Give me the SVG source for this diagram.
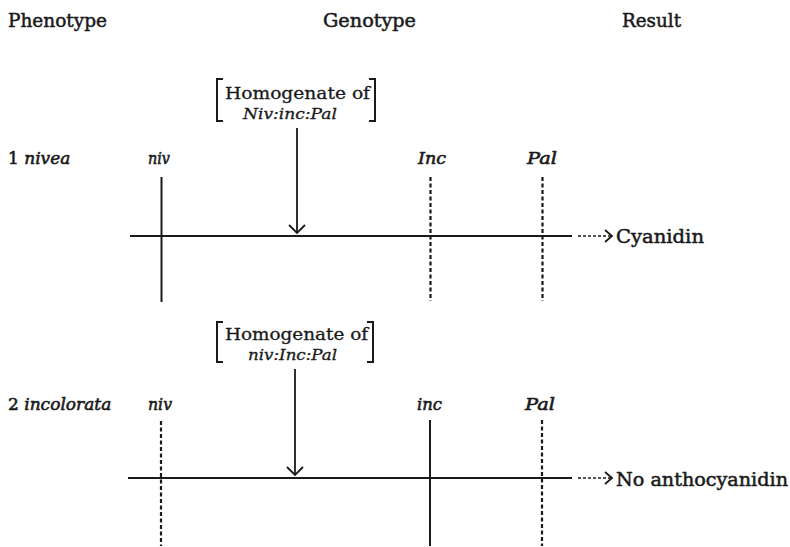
<svg xmlns="http://www.w3.org/2000/svg" width="790" height="547" viewBox="0 0 790 547">
<style>
  text { font-family: "DejaVu Serif", "Liberation Serif", serif; fill: #1a1a1a; }
  .hd { font-size: 18px; stroke: #1a1a1a; stroke-width: 0.5; }
  .lb { font-size: 17px; font-style: italic; stroke: #1a1a1a; stroke-width: 0.6; }
  .num { font-style: normal; }
  .hm { font-size: 16px; stroke: #1a1a1a; stroke-width: 0.3; }
  .gt { font-size: 14.5px; font-style: italic; stroke: #1a1a1a; stroke-width: 0.3; }
  .res { font-size: 18px; stroke: #1a1a1a; stroke-width: 0.5; }
  .solid { stroke: #1a1a1a; stroke-width: 2; fill: none; }
  .dash { stroke: #1a1a1a; stroke-width: 2.2; fill: none; stroke-dasharray: 4 2.5; }
  .axis { stroke: #1a1a1a; stroke-width: 1.8; fill: none; }
  .lead { stroke: #1a1a1a; stroke-width: 1.6; fill: none; stroke-dasharray: 3 2; }
  .head { stroke: #1a1a1a; stroke-width: 1.8; fill: none; }
  .bracket { stroke: #1a1a1a; stroke-width: 2; fill: none; }
</style>

<g id="headers">
  <text class="hd" x="8" y="27" textLength="99" lengthAdjust="spacingAndGlyphs">Phenotype</text>
  <text class="hd" x="323" y="27" textLength="93" lengthAdjust="spacingAndGlyphs">Genotype</text>
  <text class="hd" x="622" y="27" textLength="59" lengthAdjust="spacingAndGlyphs">Result</text>
</g>

<g id="row1-phenotype">
  <text class="lb" x="8" y="164"><tspan class="num">1 </tspan><tspan>nivea</tspan></text>
</g>
<g id="row1-homogenate">
  <path class="bracket" d="M223 79 H217 V121 H223"/>
  <path class="bracket" d="M369 79 H375 V121 H369"/>
  <text class="hm" x="225" y="99" textLength="145" lengthAdjust="spacingAndGlyphs">Homogenate of</text>
  <text class="gt" x="243" y="119" textLength="94" lengthAdjust="spacingAndGlyphs">Niv:inc:Pal</text>
</g>
<g id="row1-niv">
  <text class="lb" x="148" y="164" textLength="22" lengthAdjust="spacingAndGlyphs">niv</text>
  <line class="solid" x1="161.5" y1="177" x2="161.5" y2="302"/>
</g>
<g id="row1-Inc">
  <text class="lb" x="418" y="164" textLength="28" lengthAdjust="spacingAndGlyphs">Inc</text>
  <line class="dash" x1="430.5" y1="177" x2="430.5" y2="301"/>
</g>
<g id="row1-Pal">
  <text class="lb" x="527" y="164" textLength="30" lengthAdjust="spacingAndGlyphs">Pal</text>
  <line class="dash" x1="542.5" y1="177" x2="542.5" y2="301"/>
</g>
<g id="row1-result">
  <text class="res" x="616" y="243" textLength="88" lengthAdjust="spacingAndGlyphs">Cyanidin</text>
</g>

<g id="row2-phenotype">
  <text class="lb" x="8" y="410"><tspan class="num">2 </tspan><tspan>incolorata</tspan></text>
</g>
<g id="row2-homogenate">
  <path class="bracket" d="M223 322 H217 V362 H223"/>
  <path class="bracket" d="M367 322 H373 V362 H367"/>
  <text class="hm" x="225" y="340" textLength="143" lengthAdjust="spacingAndGlyphs">Homogenate of</text>
  <text class="gt" x="248" y="360" textLength="89" lengthAdjust="spacingAndGlyphs">niv:Inc:Pal</text>
</g>
<g id="row2-niv">
  <text class="lb" x="148" y="410" textLength="24" lengthAdjust="spacingAndGlyphs">niv</text>
  <line class="dash" x1="161" y1="421" x2="161" y2="546"/>
</g>
<g id="row2-inc">
  <text class="lb" x="417" y="410" textLength="25" lengthAdjust="spacingAndGlyphs">inc</text>
  <line class="solid" x1="430" y1="420" x2="430" y2="546"/>
</g>
<g id="row2-Pal">
  <text class="lb" x="525" y="410" textLength="30" lengthAdjust="spacingAndGlyphs">Pal</text>
  <line class="dash" x1="542" y1="420" x2="542" y2="546"/>
</g>
<g id="row2-result">
  <text class="res" x="616" y="486" textLength="172" lengthAdjust="spacingAndGlyphs">No anthocyanidin</text>
</g>

<g id="connectors">
  <!-- row 1 -->
  <line class="axis" x1="130" y1="236" x2="572" y2="236"/>
  <line class="lead" x1="578" y1="236" x2="611" y2="236"/>
  <path class="head" d="M605 230 L612 236 L605 242"/>
  <line class="head" x1="297" y1="128" x2="297" y2="233"/>
  <path class="head" d="M289 225 L297 233 L305 225"/>
  <!-- row 2 -->
  <line class="axis" x1="128" y1="478" x2="572" y2="478" stroke-width="2.3"/>
  <line class="lead" x1="578" y1="478" x2="611" y2="478"/>
  <path class="head" d="M605 472 L612 478 L605 484"/>
  <line class="head" x1="295" y1="369" x2="295" y2="475" stroke-width="2.2"/>
  <path class="head" d="M287 467 L295 475 L303 467"/>
</g>
</svg>
